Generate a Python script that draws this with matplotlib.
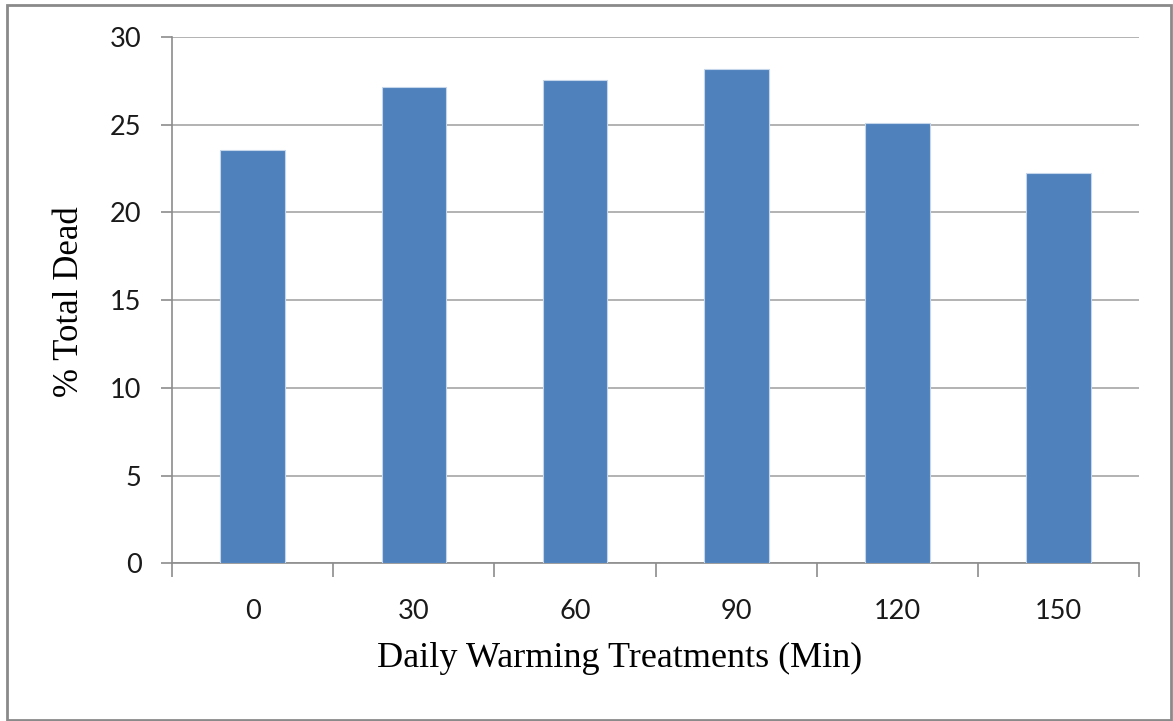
import matplotlib.pyplot as plt
from matplotlib.patches import Rectangle

treatments = ['0', '30', '60', '90', '120', '150']
pct_dead = [23.53, 27.14, 27.56, 28.18, 25.09, 22.26]

fig = plt.figure(figsize=(11.73, 7.21), dpi=100)
ax = fig.add_axes([0.1466, 0.2187, 0.8247, 0.7303])

x = list(range(len(treatments)))
ax.bar(x, pct_dead, width=0.4, color='#4f81bd', edgecolor='#c6d6ea', linewidth=0.8, zorder=3)

ax.set_xlim(-0.5, len(treatments) - 0.5)
ax.set_ylim(0, 30)
ax.set_yticks(range(0, 31, 5))
ax.yaxis.grid(True, color='#a6a6a6', linewidth=1.2, zorder=0)

ax.set_xticks(x)
ax.set_xticklabels(treatments)
ax.set_xticks([i - 0.5 for i in range(len(treatments) + 1)], minor=True)
ax.tick_params(axis='x', which='major', length=0, pad=26)
ax.tick_params(axis='x', which='minor', length=10, width=1.2, color='#8c8c8c')
ax.tick_params(axis='y', length=8, width=1.2, color='#8c8c8c', pad=14)
for lab in ax.get_xticklabels() + ax.get_yticklabels():
    lab.set_fontfamily('Lato')
    lab.set_fontsize(19.5)
    lab.set_color('#1a1a1a')

for side in ['top', 'right']:
    ax.spines[side].set_visible(False)
for side in ['left', 'bottom']:
    ax.spines[side].set_color('#8c8c8c')
    ax.spines[side].set_linewidth(1.2)

# axis titles placed like the original (x title sits left of centre)
fig.text(620 / 1173, 1 - 658 / 721, 'Daily Warming Treatments (Min)',
         fontfamily='Liberation Serif', fontsize=26, ha='center', va='center')
fig.text(69 / 1173, 1 - 302 / 721, '% Total Dead', rotation=90,
         fontfamily='Liberation Serif', fontsize=25, ha='center', va='center')

# outer chart frame
fig.patches.append(Rectangle((0.006, 0.002), 0.9927, 0.991, transform=fig.transFigure,
                             fill=False, edgecolor='#8a8a8a', linewidth=2))

fig.savefig('out.png', dpi=100)
